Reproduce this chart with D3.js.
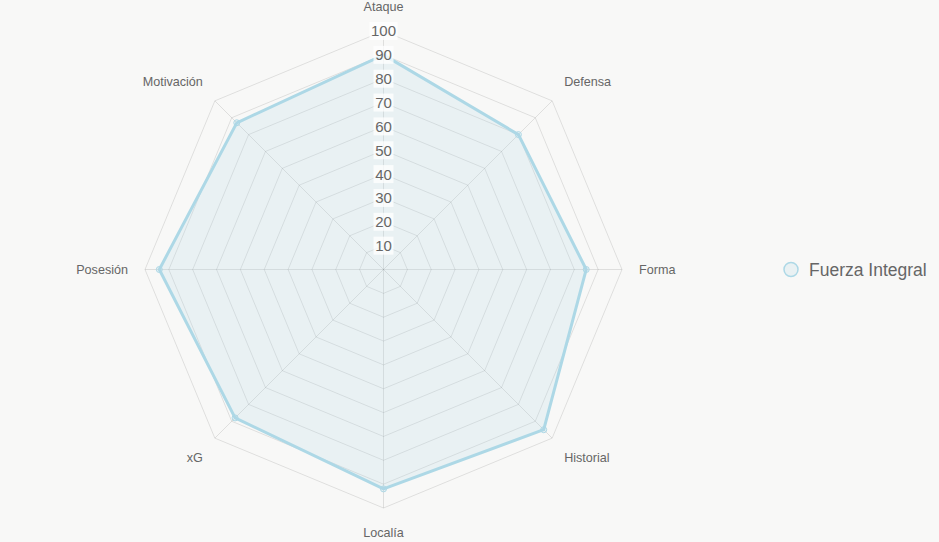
<!DOCTYPE html>
<html>
<head>
<meta charset="utf-8">
<script src="https://cdn.jsdelivr.net/npm/d3@7"></script>
<style>
  html, body { margin: 0; padding: 0; background: #f8f8f7; }
  svg { display: block; font-family: "Liberation Sans", Arial, sans-serif; }
</style>
</head>
<body>
<svg id="chart"></svg>
<script>
// chart data
var labels = ["Ataque", "Defensa", "Forma", "Historial", "Localía", "xG", "Posesión", "Motivación"];
var values = [90, 80, 85, 95, 92, 88, 94, 87];
var ticks = [10, 20, 30, 40, 50, 60, 70, 80, 90, 100];
var seriesName = "Fuerza Integral";

var width = 939, height = 542;
var cx = 383.5, cy = 269.5, radius = 238.5;

var svg = d3.select("#chart")
  .attr("width", width)
  .attr("height", height);

var g = svg.append("g")
  .attr("transform", "translate(" + cx + "," + cy + ")");

var r = d3.scaleLinear().domain([0, 100]).range([0, radius]);
var angle = d3.scaleLinear().domain([0, labels.length]).range([0, 2 * Math.PI]);

function pt(i, v) {
  var a = angle(i);
  return [Math.sin(a) * r(v), -Math.cos(a) * r(v)];
}

// rings
var ring = d3.lineRadial()
  .angle(function(d, i) { return angle(i); })
  .radius(function(d) { return r(d); })
  .curve(d3.curveLinearClosed);

g.selectAll(".ring")
  .data(ticks)
  .enter()
  .append("path")
  .attr("d", function(t) { return ring(labels.map(function() { return t; })); })
  .attr("fill", "none")
  .attr("stroke", "rgba(0,0,0,0.1)")
  .attr("stroke-width", 1);

// spokes
g.selectAll(".spoke")
  .data(labels)
  .enter()
  .append("line")
  .attr("x1", 0).attr("y1", 0)
  .attr("x2", function(d, i) { return pt(i, 100)[0]; })
  .attr("y2", function(d, i) { return pt(i, 100)[1]; })
  .attr("stroke", "rgba(0,0,0,0.1)")
  .attr("stroke-width", 1);

// data area
g.append("path")
  .attr("d", ring(values))
  .attr("fill", "rgba(173,216,230,0.2)")
  .attr("stroke", "#add8e6")
  .attr("stroke-width", 3)
  .attr("stroke-linejoin", "miter");

g.selectAll(".pt")
  .data(values)
  .enter()
  .append("circle")
  .attr("cx", function(d, i) { return pt(i, d)[0]; })
  .attr("cy", function(d, i) { return pt(i, d)[1]; })
  .attr("r", 3)
  .attr("fill", "rgba(173,216,230,0.2)")
  .attr("stroke", "#add8e6")
  .attr("stroke-width", 1);

// tick labels with backdrop
var tk = g.selectAll(".tick")
  .data(ticks)
  .enter()
  .append("g")
  .attr("transform", function(t) { return "translate(0," + (-r(t)) + ")"; });

tk.append("rect")
  .attr("x", function(t) { return t === 100 ? -14 : -10; })
  .attr("y", -9)
  .attr("width", function(t) { return t === 100 ? 28 : 20; })
  .attr("height", 18)
  .attr("fill", "rgba(255,255,255,0.75)");

tk.append("text")
  .attr("text-anchor", "middle")
  .attr("dy", "0.36em")
  .attr("font-size", 15)
  .attr("fill", "#666")
  .text(function(t) { return t; });

// point labels
var labelR = radius + 17;
g.selectAll(".plabel")
  .data(labels)
  .enter()
  .append("text")
  .attr("x", function(d, i) { return pt(i, 100)[0] / radius * labelR; })
  .attr("y", function(d, i) { return pt(i, 100)[1] / radius * labelR; })
  .attr("text-anchor", function(d, i) {
    var s = Math.sin(angle(i));
    return Math.abs(s) < 0.01 ? "middle" : (s > 0 ? "start" : "end");
  })
  .attr("dy", function(d, i) {
    var c = Math.cos(angle(i));
    if (Math.abs(c) < 0.01) return "0.35em";
    return c > 0 ? "-0.25em" : "0.95em";
  })
  .attr("font-size", 12.6)
  .attr("fill", "#666")
  .text(function(d) { return d; });

// legend
var lg = svg.append("g").attr("transform", "translate(791,269.5)");
lg.append("circle")
  .attr("r", 7)
  .attr("fill", "rgba(173,216,230,0.2)")
  .attr("stroke", "#add8e6")
  .attr("stroke-width", 1.5);
lg.append("text")
  .attr("x", 18)
  .attr("dy", "0.36em")
  .attr("font-size", 17.5)
  .attr("fill", "#666")
  .text(seriesName);
</script>
</body>
</html>
